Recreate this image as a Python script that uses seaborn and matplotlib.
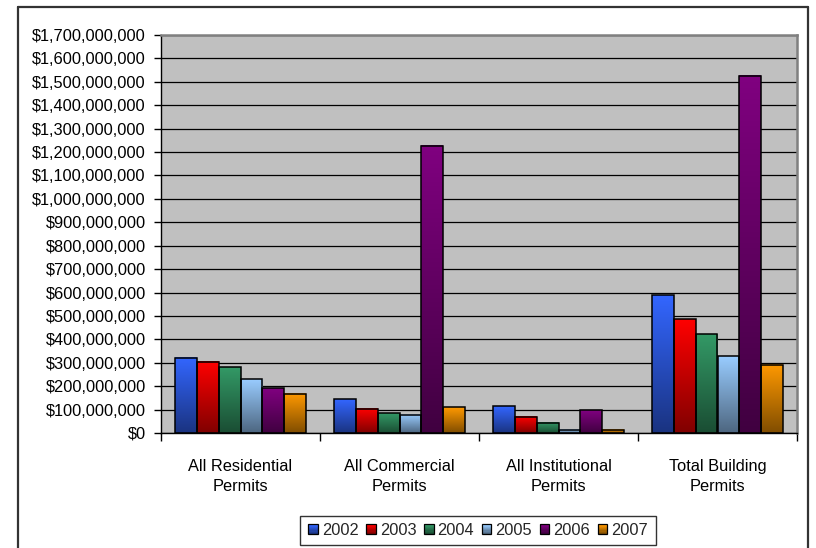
import numpy as np
import pandas as pd
import matplotlib
matplotlib.use("Agg")
import matplotlib.pyplot as plt
import matplotlib.colors as mcolors
from matplotlib.patches import Rectangle, Patch
from matplotlib.legend_handler import HandlerBase
from matplotlib.lines import Line2D
from matplotlib.ticker import FuncFormatter, MultipleLocator
import seaborn as sns

# ---- data -------------------------------------------------------------
categories = ["All Residential\nPermits", "All Commercial\nPermits",
              "All Institutional\nPermits", "Total Building\nPermits"]
years = ["2002", "2003", "2004", "2005", "2006", "2007"]
values_2002 = [322e6, 145e6, 114e6, 588e6]
values_2003 = [305e6, 103e6, 70e6, 486e6]
values_2004 = [281e6, 85e6, 44e6, 421e6]
values_2005 = [229e6, 78e6, 14e6, 327e6]
values_2006 = [192e6, 1226e6, 98e6, 1525e6]
values_2007 = [168e6, 110e6, 13e6, 292e6]

# gradient colours per year (top -> bottom of each bar)
top_colors = ["#3366FF", "#FF0000", "#339966", "#99CCFF", "#800080", "#FF9900"]
bottom_colors = ["#1A3380", "#800000", "#1A4D33", "#4D6680", "#400040", "#804D00"]

series = [values_2002, values_2003, values_2004, values_2005, values_2006, values_2007]
df = pd.DataFrame(
    [(c, y, v) for y, vals in zip(years, series) for c, v in zip(categories, vals)],
    columns=["category", "year", "value"],
)

# ---- figure -----------------------------------------------------------
sns.set_theme(style="white")
plt.rcParams["font.family"] = ["Liberation Sans", "DejaVu Sans"]
FS = 11.8

fig = plt.figure(figsize=(8.16, 5.48), dpi=100)
fig.patch.set_facecolor("white")
ax = fig.add_axes([161 / 816, 1 - 433 / 548, (797 - 161) / 816, (433 - 35) / 548])
ax.set_facecolor("#C0C0C0")
ax.set_axisbelow(True)

sns.barplot(data=df, x="category", y="value", hue="year", order=categories,
            hue_order=years, palette=top_colors, width=0.83, ax=ax,
            edgecolor="black", linewidth=1.1, legend=False, saturation=1)

# vertical gradient fill inside every bar
for container, ctop, cbot in zip(ax.containers, top_colors, bottom_colors):
    c_top = np.array(mcolors.to_rgb(ctop))
    c_bot = np.array(mcolors.to_rgb(cbot))
    t = np.linspace(0, 1, 128)[:, None]
    grad = (c_bot * (1 - t) + c_top * t)[:, None, :]
    for bar in container:
        x0, y0 = bar.get_x(), bar.get_y()
        w, h = bar.get_width(), bar.get_height()
        ax.imshow(grad, extent=[x0, x0 + w, y0, y0 + h], origin="lower",
                  aspect="auto", zorder=1.5, interpolation="bilinear")
        bar.set_facecolor("none")
        bar.set_zorder(2)

# ---- axes styling -----------------------------------------------------
ax.set_xlim(-0.5, 3.5)
ax.set_ylim(0, 1.7e9)
ax.yaxis.set_major_locator(MultipleLocator(1e8))
ax.yaxis.set_major_formatter(FuncFormatter(lambda v, p: "${:,.0f}".format(v)))
ax.grid(axis="y", color="black", linewidth=0.9)
ax.grid(axis="x", visible=False)
ax.set_xlabel("")
ax.set_ylabel("")

ax.set_xticks(range(len(categories)))
ax.set_xticklabels(categories, fontsize=FS, linespacing=1.35)
ax.set_xticks([-0.5, 0.5, 1.5, 2.5, 3.5], minor=True)
ax.tick_params(axis="x", which="major", length=0, pad=19, colors="black")
ax.tick_params(axis="x", which="minor", length=6, width=1, color="black",
               direction="out", bottom=True)
ax.tick_params(axis="y", length=5, width=1, color="black", direction="out",
               left=True, labelsize=FS, pad=6, labelcolor="black")

for side in ("left", "bottom"):
    ax.spines[side].set_color("black")
    ax.spines[side].set_linewidth(1.0)
for side in ("top", "right"):
    ax.spines[side].set_color("#808080")
    ax.spines[side].set_linewidth(1.8)


# ---- legend with gradient swatches -------------------------------------
class GradientSwatch(HandlerBase):
    def __init__(self, ctop, cbot):
        super().__init__()
        self.ctop = np.array(mcolors.to_rgb(ctop))
        self.cbot = np.array(mcolors.to_rgb(cbot))

    def create_artists(self, legend, orig_handle, xdescent, ydescent,
                       width, height, fontsize, trans):
        s = min(width, height)
        x = -xdescent + (width - s) / 2
        y = -ydescent + (height - s) / 2
        n = 8
        arts = []
        for i in range(n):
            t = i / (n - 1)
            col = self.cbot * (1 - t) + self.ctop * t
            arts.append(Rectangle((x, y + i * s / n), s, s / n + 0.2,
                                  facecolor=col, edgecolor="none", transform=trans))
        arts.append(Rectangle((x, y), s, s, facecolor="none", edgecolor="black",
                              linewidth=0.9, transform=trans))
        return arts


handles = [Patch(label=y) for y in years]
hmap = {h: GradientSwatch(t, b) for h, t, b in zip(handles, top_colors, bottom_colors)}
leg = fig.legend(handles=handles, labels=years, handler_map=hmap, ncol=6,
                 loc="center", bbox_to_anchor=(478 / 816, 1 - 530.5 / 548),
                 fontsize=FS, frameon=True, fancybox=False, shadow=False,
                 handlelength=0.6, handleheight=0.6, handletextpad=0.25,
                 columnspacing=0.45, borderpad=0.45, borderaxespad=0)
leg.get_frame().set_edgecolor("black")
leg.get_frame().set_linewidth(1.0)

# ---- outer chart frame --------------------------------------------------
W, H = 816, 548
frame_kw = dict(color="#333333", linewidth=1.6, transform=fig.transFigure)
fig.add_artist(Line2D([17.5 / W, 17.5 / W], [0, 1 - 6.5 / H], **frame_kw))
fig.add_artist(Line2D([808 / W, 808 / W], [0, 1 - 6.5 / H], **frame_kw))
fig.add_artist(Line2D([17.5 / W, 808 / W], [1 - 6.5 / H, 1 - 6.5 / H], **frame_kw))

fig.savefig("out.png", dpi=100)
